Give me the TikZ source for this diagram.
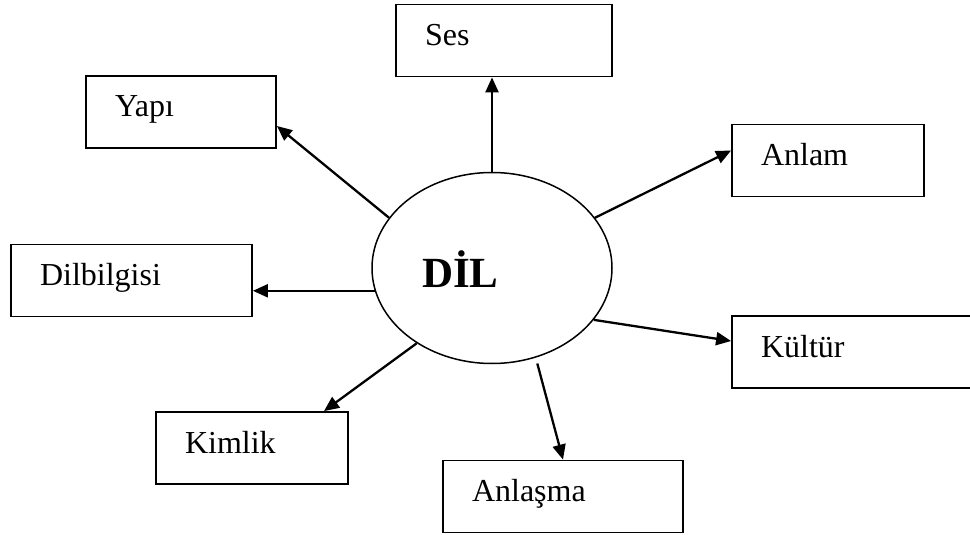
\documentclass[tikz,border=0pt]{standalone}
\usepackage{fontspec}
\setmainfont{Liberation Serif}
\usetikzlibrary{shapes.geometric,arrows.meta}

\begin{document}
\begin{tikzpicture}[x=1pt,y=-1pt,
  kutu/.style={draw,line width=1.8pt,inner xsep=29pt,inner ysep=0pt,text height=22pt,text depth=12pt,minimum height=72pt,align=left,font=\fontsize{32}{38}\selectfont},
  ok/.style={line width=2.3pt,-{Triangle[length=15pt,width=13pt]}}]
\useasboundingbox (0,0) rectangle (970,535);
  \node (dil) at (492,268) [ellipse,draw,line width=1.5pt,minimum width=240pt,minimum height=191pt,inner sep=0pt,text width=140pt,text height=38pt,text depth=0pt,align=left,font=\fontsize{43}{50}\selectfont\bfseries] {DİL};
  \node (ses) at (504,40.5) [kutu,text width=158pt] {Ses};
  \node (yapi) at (181,112) [kutu,text width=132pt] {Yapı};
  \node (anlam) at (828,160.5) [kutu,text width=134pt] {Anlam};
  \node (dilbilgisi) at (131.5,280.5) [kutu,text width=183pt] {Dilbilgisi};
  \node (kultur) at (853.5,352) [kutu,text width=185pt] {Kültür};
  \node (kimlik) at (252,448) [kutu,text width=134pt] {Kimlik};
  \node (anlasma) at (563,496.5) [kutu,text width=182pt] {Anlaşma};
  \draw [ok] (dil.north) to (dil.north |- ses.south);
  \draw [ok] (dil.154) to ([yshift=-14pt]yapi.east);
  \draw [ok] (dil.26.6) to ([yshift=10pt]anlam.west);
  \draw [ok] (dil.191) to (dil.191 -| dilbilgisi.east);
  \draw [ok] (dil.333) to ([yshift=11pt]kultur.west);
  \draw [ok] (dil.225) to ([xshift=72pt]kimlik.north);
  \draw [ok,shorten <=6pt] (dil.296.3) to (anlasma.north);
\end{tikzpicture}
\end{document}
